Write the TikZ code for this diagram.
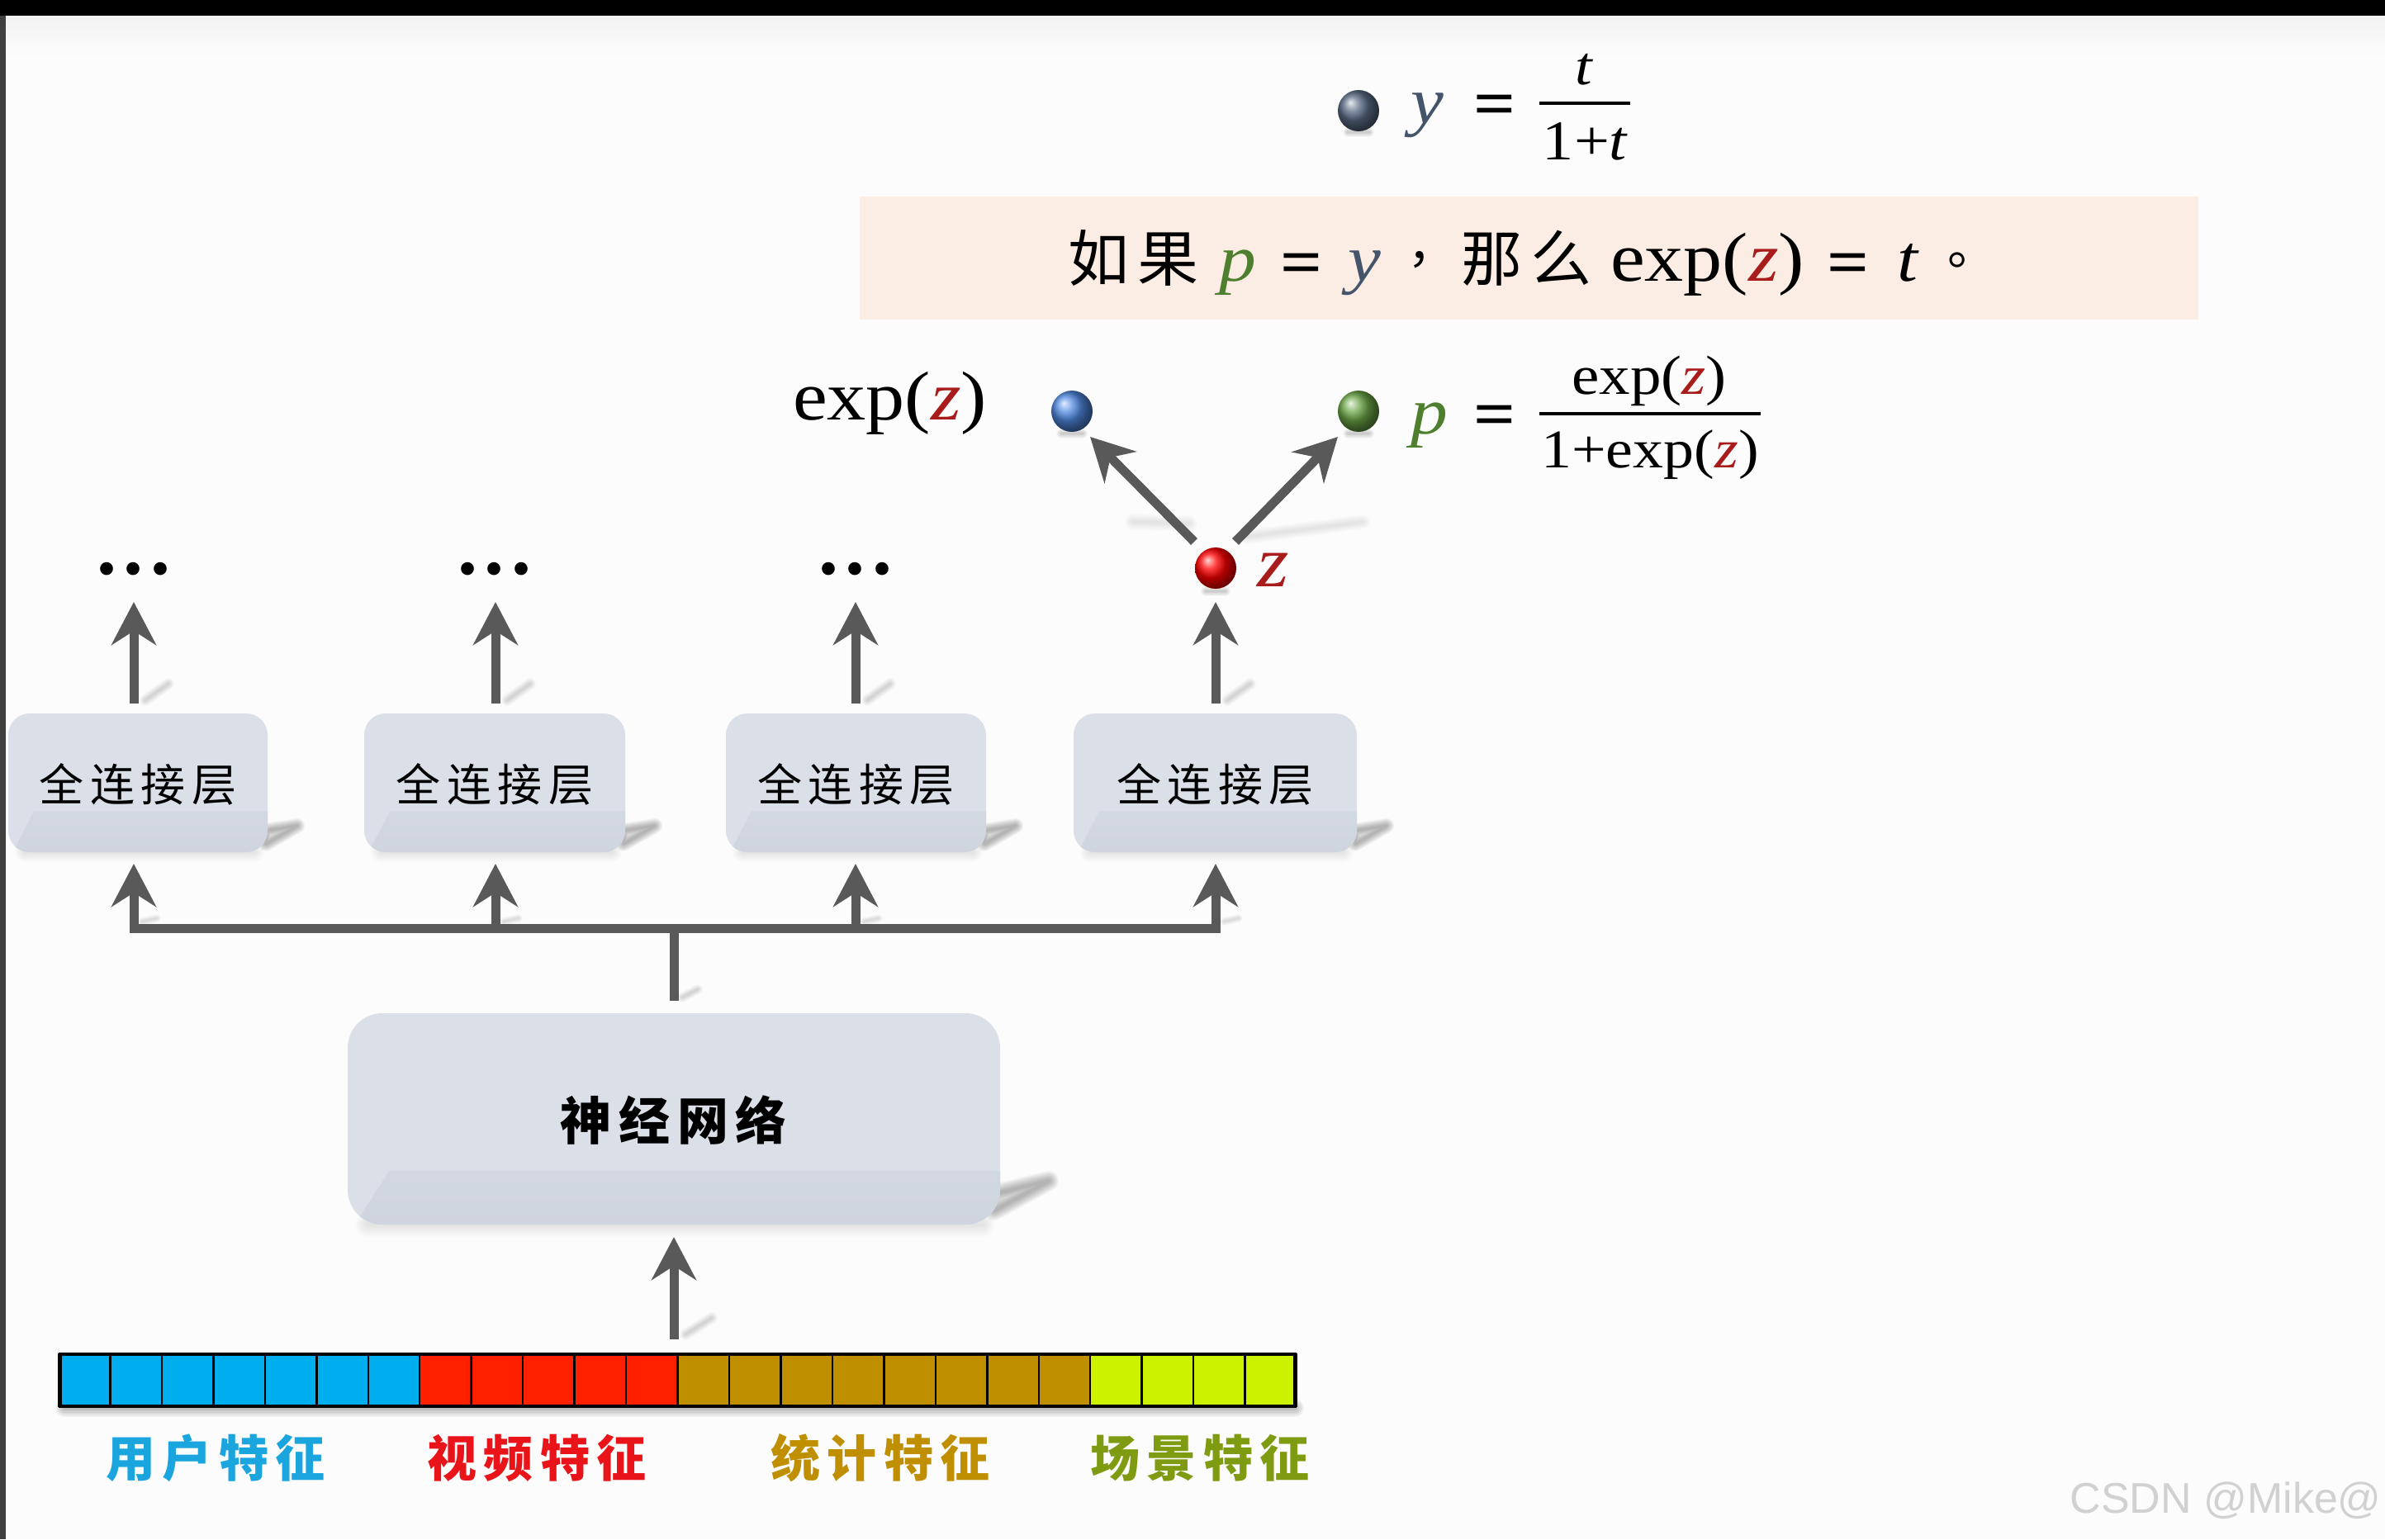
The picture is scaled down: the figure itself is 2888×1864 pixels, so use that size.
\documentclass[tikz,border=0pt]{standalone}
\usepackage{fontspec}
\usetikzlibrary{arrows.meta,shadings}
\newfontfamily\cjk[LetterSpace=14]{Noto Sans CJK SC}
\newfontfamily\mf[FakeStretch=1.12]{Liberation Serif}
\newfontfamily\plainserif{Liberation Serif}
\newfontfamily\wm{Liberation Sans}
\definecolor{pagebg}{HTML}{FDFCFC}
\definecolor{linegray}{HTML}{595959}
\definecolor{boxfill}{HTML}{DBE0E8}
\definecolor{boxband}{HTML}{CFD5DF}
\definecolor{peach}{HTML}{FBEDE4}
\definecolor{zred}{HTML}{A81C1C}
\definecolor{pgreen}{HTML}{4E7F2E}
\definecolor{yslate}{HTML}{44546A}
\definecolor{cblue}{HTML}{00ADEF}
\definecolor{cred}{HTML}{FF2000}
\definecolor{cgold}{HTML}{BF8F00}
\definecolor{clime}{HTML}{CCF200}
\definecolor{tblue}{HTML}{1AA5DE}
\definecolor{tred}{HTML}{E8141A}
\definecolor{tolive}{HTML}{7F9B12}
\definecolor{ballb}{HTML}{4F88E0}
\definecolor{ballg}{HTML}{6CA646}
\definecolor{balls}{HTML}{5A6C86}
\newcommand\fsz[1]{\fontsize{#1}{#1}\selectfont}
\newcommand\atx[2]{\rlap{\kern#1pt #2}}
% soft stroke: [opacity per layer] from, to, width
\newcommand\softl[4][.025]{\foreach \f in {1,.88,.76,.64,.52,.4,.28,.16}{\pgfmathsetmacro\lwd{\f*#4}\draw[black,opacity=#1,line cap=round,line width=\lwd pt] #2 -- #3;}}
% soft triangle: [opacity per layer] three corners, largest width
\newcommand\softt[5][.04]{\foreach \f in {1,.88,.76,.64,.52,.4,.28,.16}{\pgfmathsetmacro\lwd{\f*#5}\draw[black,opacity=#1,line join=round,line width=\lwd pt] #2 -- #3 -- #4 -- cycle;}}
\newcommand\zz{{\itshape\color{zred}z}}
\newcommand\eqs{{\bfseries =}}
\tikzset{
  x=1pt,y=-1pt,
  lbl/.style={inner sep=0pt,outer sep=0pt,anchor=base west},
  lblc/.style={inner sep=0pt,outer sep=0pt,anchor=base},
  ln/.style={draw=linegray,line width=11pt},
  arw/.style={ln,-{Stealth[length=52pt,width=54pt,inset=17pt]}},
  fcbox/.style={draw=none,fill=boxfill,rounded corners=#1,inner sep=0pt,outer sep=0pt,
    path picture={\shade[sharp corners,top color=boxfill,bottom color=boxband] ([xshift=1.2*#1,yshift=.95*#1+25pt]path picture bounding box.south west)
      -- ([yshift=.95*#1+25pt]path picture bounding box.south east)
      -- (path picture bounding box.south east)
      -- ([xshift=.2*#1]path picture bounding box.south west) -- cycle;}},
  ballstyle/.style={circle,inner sep=0pt,outer sep=0pt,minimum size=50pt},
}
\newcommand\cells[3]{\foreach \i in {#1,...,#2}{\filldraw[fill=#3,draw=black,line width=2.5pt] ({71+62.46*\i},1640) rectangle ({71+62.46*(\i+1)},1703);}}
\begin{document}
\begin{tikzpicture}
\useasboundingbox (0,0) rectangle (2888,1864);
\fill[pagebg] (0,0) rectangle (2888,1864);
\shade[top color=black!5,bottom color=pagebg] (0,19) rectangle (2888,70);
\fill[black] (0,0) rectangle (2888,19);
\fill[black!75] (0,19) rectangle (7,1864);

% peach banner
\fill[peach] (1041,238) rectangle (2662,387);
\node[lbl] (banner) at (1293,340) {\fsz{80}\mf
  \atx{0}{\fsz{74}\cjk 如果}%
  \atx{183}{\itshape\color{pgreen}p}%
  \atx{257}{\raisebox{-4pt}{\eqs}}%
  \atx{339}{\itshape\color{yslate}y}%
  \atx{411}{\fsz{60}\cjk\raisebox{22pt}{，}}%
  \atx{476}{\fsz{74}\cjk 那么}%
  \atx{657}{\fsz{84}exp(\zz)}%
  \atx{919}{\raisebox{-4pt}{\eqs}}%
  \atx{1004}{\itshape t}%
  \atx{1065}{\fsz{60}\cjk\raisebox{20pt}{。}}%
  \phantom{x}};

% y formula
\softl{(1632,160)}{(1658,160)}{12}
\node[ballstyle,ball color=balls] (by) at (1645,134) {};
\node[lbl] (yv) at (1708,149) {\fsz{80}\mf\itshape\color{yslate}y};
\node[lbl] (yeq) at (1784,152) {\fsz{80}\mf\eqs};
\fill[black] (1864,123) rectangle (1974,127);
\node[lblc] (yn) at (1918,102) {\fsz{66}\mf\itshape t};
\node[lblc] (yd) at (1919,193) {\fsz{68}\mf 1+{\itshape t}};

% exp(z), balls, arrows
\node[lbl] (ez) at (960,508) {\fsz{84}\mf exp(\zz)};
\softl{(1285,525)}{(1311,525)}{12}
\softl{(1632,525)}{(1658,525)}{12}
\node[ballstyle,ball color=ballb] (bb) at (1298,498) {};
\node[ballstyle,ball color=ballg] (bg) at (1645,498) {};
\node[lbl] (pv) at (1708,525) {\fsz{80}\mf\itshape\color{pgreen}p};
\node[lbl] (peq) at (1784,528) {\fsz{80}\mf\eqs};
\fill[black] (1864,499) rectangle (2132,503);
\node[lblc] (pn) at (1997,477) {\fsz{67}\mf exp(\zz)};
\node[lblc] (pd) at (1998,566) {\fsz{66}\mf 1+exp(\zz)};

\softl[.013]{(1372,632)}{(1440,634)}{20}
\softl[.012]{(1510,650)}{(1650,632)}{18}
\softl{(1460,716)}{(1484,716)}{12}
\node[ballstyle,ball color=red] (bz) at (1472,688) {};
\node[lbl] (zl) at (1522,710) {\fsz{88}\mf\zz};
\coordinate (zl0) at (1446,656);
\coordinate (zl1) at (1320,529);
\coordinate (zr0) at (1496,656);
\coordinate (zr1) at (1620,529);
\draw[arw] (zl0) -- (zl1);
\draw[arw] (zr0) -- (zr1);

% fully connected boxes, arrows and dots
\foreach \n/\xa/\xb/\xc in {1/10/324/162,2/441/757/600,3/879/1194/1036,4/1300/1643/1472}{
  \softt[.038]{({\xb-2},1006)}{({\xb+36},1000)}{({\xb-2},1022)}{18}
  \softl[.012]{({\xa+20},1032)}{({\xb-16},1032)}{24}
  \softl[.02]{({\xc+14},848)}{({\xc+42},828)}{14}
  \softl[.016]{({\xc+10},1116)}{({\xc+28},1112)}{10}
  \node[fcbox=26pt,minimum width={(\xb-\xa)*1pt},minimum height=168pt] (fc\n) at ({(\xa+\xb)/2},948) {};
  \node[lblc] (fct\n) at ({(\xa+\xb)/2},970) {\fsz{54}\cjk 全连接层};
  \coordinate (s\n) at (\xc,852);
  \coordinate (t\n) at (\xc,729);
  \coordinate (u\n) at (\xc,1046);
  \coordinate (w\n) at (\xc,1124);
  \draw[arw] (s\n) -- (t\n);
  \draw[arw] (w\n) -- (u\n);
}
\foreach \n/\xc in {1/162,2/599,3/1036}{
  \node[lblc] (d\n) at (\xc,695) {\fsz{96}\plainserif\bfseries .\kern9pt.\kern9pt.};
}
\draw[ln,shorten <=-5.5pt,shorten >=-5.5pt] (w1) -- (w4);

% network box
\softt[.038]{(1204,1446)}{(1270,1430)}{(1204,1466)}{24}
\softl[.012]{(445,1483)}{(1190,1483)}{30}
\softl[.02]{(826,1208)}{(845,1198)}{12}
\node[fcbox=42pt,minimum width=790pt,minimum height=256pt] (nn) at (816,1355) {};
\node[lblc] (nnt) at (816,1380) {\fsz{62}\cjk\bfseries 神经网络};
\draw[ln,shorten <=15pt] (nn.north) -- (nn.north |- w1);

% bottom arrow
\softl[.02]{(830,1616)}{(862,1596)}{14}
\coordinate (in0) at (816,1622);
\coordinate (in1) at (816,1498);
\draw[arw] (in0) -- (in1);

% feature bar
\softl[.035]{(78,1705)}{(1568,1705)}{22}
\cells{0}{6}{cblue}
\cells{7}{11}{cred}
\cells{12}{19}{cgold}
\cells{20}{23}{clime}
\draw[black,line width=4.5pt] (73,1640) rectangle (1568,1703);
\node[lblc] (l1) at (261,1788) {\fsz{60}\cjk\bfseries\color{tblue}用户特征};
\node[lblc] (l2) at (650,1788) {\fsz{60}\cjk\bfseries\color{tred}视频特征};
\node[lblc] (l3) at (1066,1788) {\fsz{60}\cjk\bfseries\color{cgold}统计特征};
\node[lblc] (l4) at (1453,1788) {\fsz{60}\cjk\bfseries\color{tolive}场景特征};

\node[inner sep=0pt,anchor=base east] (wmk) at (2884,1832) {\fsz{52}\wm\color{black!18}CSDN @Mike@};
\end{tikzpicture}
\end{document}
